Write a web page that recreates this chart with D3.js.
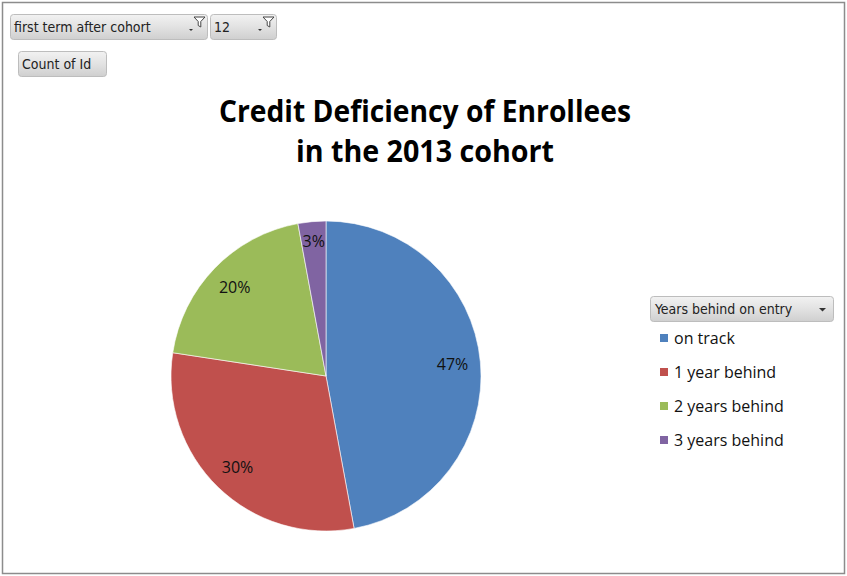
<!DOCTYPE html>
<html>
<head>
<meta charset="utf-8">
<script src="https://cdn.jsdelivr.net/npm/d3@7"></script>
<style>
  body { margin: 0; background: #fff; }
  svg { display: block; font-family: "Open Sans", "Noto Sans", sans-serif; }
</style>
</head>
<body>
<div id="chart"></div>
<script>
////////////////////////////////////////////////////////////
//////////////////////// Data //////////////////////////////
////////////////////////////////////////////////////////////

var categories = ["on track", "1 year behind", "2 years behind", "3 years behind"],
	shares = [47.1, 30.3, 19.7, 2.9], //percent of enrollees
	labels = ["47%", "30%", "20%", "3%"],
	colors = ["#4F81BD", "#C0504D", "#9BBB59", "#8064A2"];

var titleLines = ["Credit Deficiency of Enrollees", "in the 2013 cohort"],
	filterButtons = [
		{text: "first term after cohort", x: 10, w: 197},
		{text: "12", x: 210, w: 66}
	],
	valueButton = "Count of Id",
	legendTitle = "Years behind on entry";

var width = 847, height = 576;

////////////////////////////////////////////////////////////
///////////////////// Initiate SVG /////////////////////////
////////////////////////////////////////////////////////////

var svg = d3.select("#chart").append("svg")
	.attr("width", width)
	.attr("height", height);

var defs = svg.append("defs");
var grad = defs.append("linearGradient")
	.attr("id", "btnGrad")
	.attr("x1", 0).attr("y1", 0).attr("x2", 0).attr("y2", 1);
grad.append("stop").attr("offset", "0%").attr("stop-color", "#f2f2f2");
grad.append("stop").attr("offset", "50%").attr("stop-color", "#e2e2e2");
grad.append("stop").attr("offset", "100%").attr("stop-color", "#cfcfcf");

//outer frame
svg.append("rect")
	.attr("x", 2.5).attr("y", 2.5)
	.attr("width", width - 5).attr("height", height - 5)
	.attr("fill", "#fff")
	.attr("stroke", "#8c8c8c")
	.attr("stroke-width", 1.5);

////////////////////////////////////////////////////////////
/////////////////// Pivot buttons //////////////////////////
////////////////////////////////////////////////////////////

function button(g, x, y, w, h, text) {
	g.append("rect")
		.attr("x", x + 0.5).attr("y", y + 0.5)
		.attr("width", w).attr("height", h)
		.attr("rx", 3).attr("ry", 3)
		.attr("fill", "url(#btnGrad)")
		.attr("stroke", "#bdbdbd");
	g.append("text")
		.attr("x", x + 4).attr("y", y + h / 2 + 5)
		.style("font-size", "14px")
		.style("font-family", "'DejaVu Sans Condensed', 'Liberation Sans Narrow', sans-serif")
		.style("fill", "#222")
		.text(text);
}

//funnel icon with small dropdown arrow
function filterIcon(g, x, y) {
	g.append("path")
		.attr("d", "M" + (x - 8) + "," + (y + 12) + "l4,0l-2,2z")
		.attr("fill", "#333");
	g.append("path")
		.attr("d", "M" + (x - 3) + "," + (y) + "l11,0l-4.2,4.5l0,5.5l-2.6,-1.5l0,-4z")
		.attr("fill", "#fff")
		.attr("stroke", "#444")
		.attr("stroke-width", 1);
}

var btnG = svg.append("g").attr("class", "buttons");
filterButtons.forEach(function(d) {
	button(btnG, d.x, 14, d.w, 25, d.text);
	filterIcon(btnG, d.x + d.w - 10, 17);
});
button(btnG, 18, 51, 88, 25, valueButton);

////////////////////////////////////////////////////////////
/////////////////////// Title //////////////////////////////
////////////////////////////////////////////////////////////

var title = svg.append("text")
	.attr("text-anchor", "middle")
	.style("font-weight", "bold")
	.style("font-family", "'Open Sans', sans-serif")
	.style("font-size", "30px")
	.style("fill", "#000");

title.selectAll("tspan")
	.data(titleLines)
	.enter().append("tspan")
	.attr("x", 425)
	.attr("y", function(d, i) { return 122 + i * 40; })
	.text(function(d) { return d; });

//squeeze the title to the width of the original
title.selectAll("tspan").each(function(d, i) {
	var target = i === 0 ? 412 : 258;
	var len = this.getComputedTextLength();
	if (len > target) d3.select(this).attr("textLength", target).attr("lengthAdjust", "spacingAndGlyphs");
});

////////////////////////////////////////////////////////////
//////////////////////// Pie ///////////////////////////////
////////////////////////////////////////////////////////////

var cx = 326, cy = 376, radius = 155;

var pie = d3.pie().sort(null).value(function(d) { return d; });
var arc = d3.arc().innerRadius(0).outerRadius(radius);
var labelArc = d3.arc().innerRadius(radius * 0.82).outerRadius(radius * 0.82);

var pieG = svg.append("g")
	.attr("transform", "translate(" + cx + "," + cy + ")");

var slices = pie(shares);

pieG.selectAll(".slice")
	.data(slices)
	.enter().append("path")
	.attr("class", "slice")
	.attr("d", arc)
	.attr("fill", function(d, i) { return colors[i]; })
	.attr("stroke", "#fff")
	.attr("stroke-width", 0.6);

pieG.selectAll(".pLabel")
	.data(slices)
	.enter().append("text")
	.attr("class", "pLabel")
	.attr("transform", function(d, i) {
		var c = labelArc.centroid(d);
		if (i === 3) c = d3.arc().innerRadius(radius * 0.87).outerRadius(radius * 0.87).centroid(d);
		return "translate(" + c + ")";
	})
	.attr("dy", "0.35em")
	.attr("text-anchor", "middle")
	.style("font-size", "16px")
	.style("fill", "#111")
	.text(function(d, i) { return labels[i]; });

////////////////////////////////////////////////////////////
/////////////////////// Legend /////////////////////////////
////////////////////////////////////////////////////////////

var legend = svg.append("g").attr("class", "legend");

legend.append("rect")
	.attr("x", 650.5).attr("y", 296.5)
	.attr("width", 183).attr("height", 25)
	.attr("rx", 3).attr("ry", 3)
	.attr("fill", "url(#btnGrad)")
	.attr("stroke", "#bdbdbd");
legend.append("text")
	.attr("x", 655).attr("y", 314)
	.style("font-size", "14px")
	.style("font-family", "'DejaVu Sans Condensed', 'Liberation Sans Narrow', sans-serif")
	.style("fill", "#222")
	.text(legendTitle);
legend.append("path")
	.attr("d", "M819,308l7,0l-3.5,3.5z")
	.attr("fill", "#333");

var items = legend.selectAll(".item")
	.data(categories)
	.enter().append("g")
	.attr("class", "item")
	.attr("transform", function(d, i) { return "translate(660," + (338 + i * 34) + ")"; });

items.append("rect")
	.attr("x", 0).attr("y", -4)
	.attr("width", 8).attr("height", 8)
	.attr("fill", function(d, i) { return colors[i]; });

items.append("text")
	.attr("x", 14).attr("dy", "0.35em")
	.style("font-size", "16px")
	.style("fill", "#111")
	.text(function(d) { return d; });
</script>
</body>
</html>
